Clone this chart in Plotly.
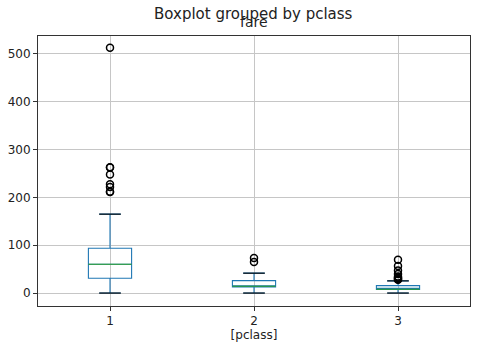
import plotly.graph_objects as go

classes = [1, 2, 3]
q1 = [30.92, 13.0, 7.75]
medians = [60.29, 14.25, 8.05]
q3 = [93.5, 26.0, 15.5]
lower = [0.0, 0.0, 0.0]
upper = [164.87, 41.58, 25.47]
outliers = [
    [211.34, 211.5, 221.78, 227.53, 247.52, 262.38, 263.0, 512.33],
    [65.0, 73.5],
    [27.9, 29.13, 31.28, 31.39, 34.38, 39.69, 46.9, 56.5, 69.55],
]
tick_labels = ["1", "2", "3"]

BOX_W = 0.3
blue = "#1f77b4"
green = "#2ca02c"
FONT = "DejaVu Sans"
TXT = "#222222"

fig = go.Figure()

fig.add_trace(go.Box(
    x=classes, q1=q1, median=medians, q3=q3,
    lowerfence=lower, upperfence=upper,
    width=BOX_W, whiskerwidth=0.5,
    line=dict(color=blue, width=1.1),
    fillcolor="rgba(0,0,0,0)",
    boxpoints=False, hoverinfo="skip", showlegend=False,
))

# medians (green) and caps (black)
mx, my, cx, cy = [], [], [], []
for c, m, lo, hi in zip(classes, medians, lower, upper):
    mx += [c - BOX_W / 2, c + BOX_W / 2, None]
    my += [m, m, None]
    for v in (lo, hi):
        cx += [c - BOX_W / 4, c + BOX_W / 4, None]
        cy += [v, v, None]
fig.add_trace(go.Scatter(x=mx, y=my, mode="lines", line=dict(color=green, width=1.1),
                         showlegend=False, hoverinfo="skip"))
fig.add_trace(go.Scatter(x=cx, y=cy, mode="lines", line=dict(color="black", width=1.1),
                         showlegend=False, hoverinfo="skip"))

ox, oy = [], []
for c, vals in zip(classes, outliers):
    ox += [c] * len(vals)
    oy += vals
fig.add_trace(go.Scatter(x=ox, y=oy, mode="markers",
                         marker=dict(symbol="circle-open", size=7, color="black",
                                     line=dict(width=1.5, color="black")),
                         showlegend=False, hoverinfo="skip"))

axis_common = dict(
    showline=True, mirror=True, linecolor="#333333", linewidth=1,
    ticks="outside", ticklen=4, tickcolor="#333333", tickwidth=1,
    showgrid=True, gridcolor="#c6c6c6", gridwidth=1, zeroline=False,
    tickfont=dict(family=FONT, size=12, color=TXT), automargin=False,
)

fig.update_layout(
    width=490, height=353,
    margin=dict(l=38, r=20, t=36, b=47),
    paper_bgcolor="white", plot_bgcolor="white",
    font=dict(family=FONT, color=TXT),
    xaxis=dict(range=[0.5, 3.5], tickmode="array", tickvals=classes, ticktext=tick_labels,
               title=dict(text="[pclass]", font=dict(family=FONT, size=12, color=TXT), standoff=3),
               **axis_common),
    yaxis=dict(range=[-27, 537], tickmode="array", tickvals=[0, 100, 200, 300, 400, 500],
               **axis_common),
    annotations=[
        dict(text="Boxplot grouped by pclass", xref="paper", yref="paper",
             x=0.498, y=1 + (36 - 13.5) / 270, xanchor="center", yanchor="middle",
             showarrow=False, font=dict(family=FONT, size=15, color=TXT)),
        dict(text="fare", xref="paper", yref="paper",
             x=0.5, y=1 + (36 - 22.5) / 270, xanchor="center", yanchor="middle",
             showarrow=False, font=dict(family=FONT, size=14, color=TXT)),
    ],
)

fig.write_html("out.html")
